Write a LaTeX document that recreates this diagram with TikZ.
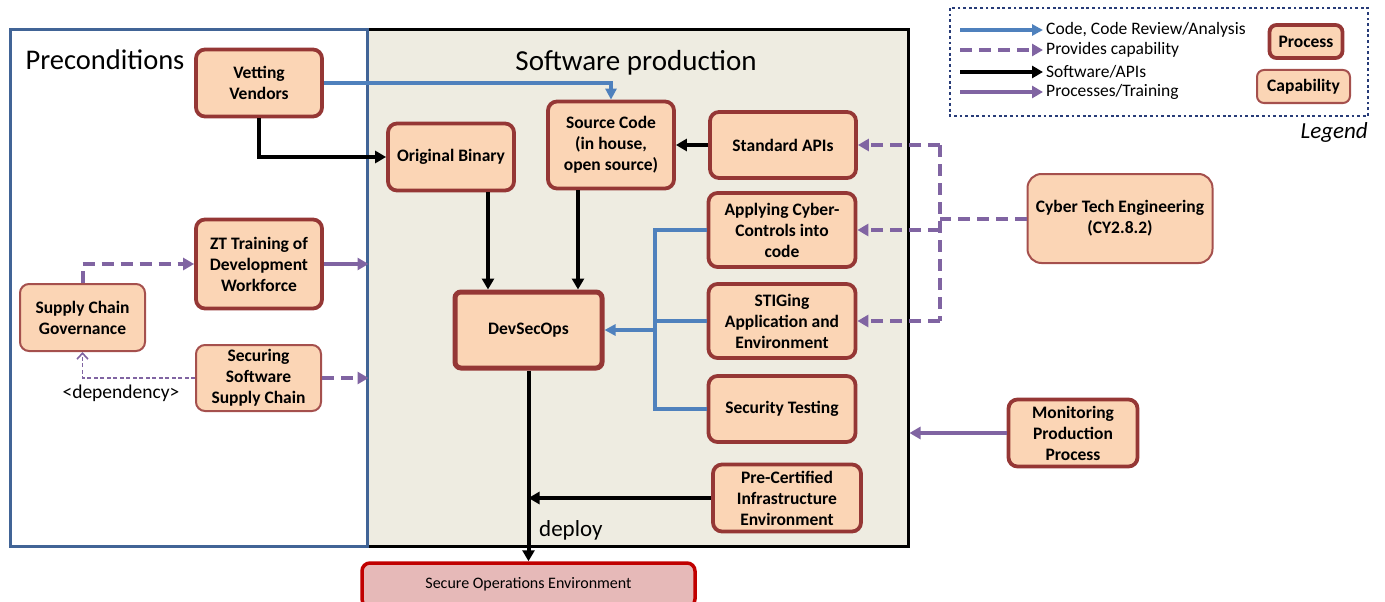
\documentclass[tikz,border=0pt]{standalone}
\usepackage{fontspec}
\setmainfont{Carlito}
\usetikzlibrary{arrows.meta}
\definecolor{peach}{RGB}{251,213,181}
\definecolor{dred}{RGB}{149,55,53}
\definecolor{capred}{RGB}{165,80,77}
\definecolor{cblue}{RGB}{79,129,189}
\definecolor{cpurple}{RGB}{128,100,162}
\definecolor{beige}{RGB}{238,236,225}
\definecolor{preblue}{RGB}{65,100,150}
\definecolor{legblue}{RGB}{40,60,120}
\definecolor{sofill}{RGB}{230,185,184}
\definecolor{soborder}{RGB}{192,0,0}
\newcommand{\nodefnt}{\fontsize{17.5}{21}\selectfont\bfseries}
\tikzset{
  proc/.style={draw=dred, line width=3.8pt, fill=peach, rounded corners=9pt, align=center, font=\nodefnt, inner sep=0pt},
  capab/.style={draw=capred, line width=2pt, fill=peach, rounded corners=9pt, align=center, font=\nodefnt, inner sep=0pt},
  tip/.style={-{Triangle[length=11pt,width=12pt]}},
  blk/.style={draw=black, line width=4pt},
  blkarr/.style={blk, tip},
  bline/.style={draw=cblue, line width=3.5pt},
  barr/.style={bline, -{Triangle[length=11pt,width=11pt]}},
  pline/.style={draw=cpurple, line width=4pt},
  parr/.style={pline, tip},
  pdash/.style={pline, dash pattern=on 12pt off 7pt},
  pdasharr/.style={pdash, tip},
  lbl/.style={font=\fontsize{17.5}{21}\selectfont, anchor=west, inner sep=0pt},
}
\begin{document}
\begin{tikzpicture}[x=1pt,y=-1pt]
\useasboundingbox (0,0) rectangle (1385,602);
% big boxes
\node[draw=black, line width=3pt, fill=beige, minimum width=541, minimum height=516, inner sep=0pt] (sw) at (637.5,288) {};
\node[draw=preblue, line width=3pt, minimum width=357, minimum height=516, inner sep=0pt] (pre) at (188.5,288) {};
\node[font=\fontsize{28.5}{34}\selectfont, inner sep=0pt] (pretitle) at (105,60) {Preconditions};
\node[font=\fontsize{29}{34}\selectfont, inner sep=0pt] (swtitle) at (636,63) {Software production};

% nodes
\node[proc, minimum width=126, minimum height=67] (vv) at (259,83) {Vetting\\Vendors};
\node[proc, minimum width=126, minimum height=67] (ob) at (451,157) {Original Binary};
\node[proc, minimum width=126, minimum height=87] (sc) at (611,145) {Source Code\\(in house,\\open source)};
\node[proc, minimum width=146, minimum height=66] (sa) at (783,145) {Standard APIs};
\node[proc, minimum width=147, minimum height=74] (ac) at (782,230) {Applying Cyber-\\Controls into\\code};
\node[proc, minimum width=147, minimum height=74] (sg) at (782,321) {STIGing\\Application and\\Environment};
\node[proc, minimum width=147, minimum height=66] (st) at (782,409) {Security Testing};
\node[proc, line width=5pt, rounded corners=6pt, minimum width=147, minimum height=76] (ds) at (528.5,330) {DevSecOps};
\node[proc, minimum width=148, minimum height=67] (pc) at (787,498) {Pre-Certified\\Infrastructure\\Environment};
\node[draw=soborder, line width=3.5pt, fill=sofill, rounded corners=8pt, minimum width=333, minimum height=44, inner sep=0pt] (so) at (528.5,585) {};
\node[font=\fontsize{16}{19}\selectfont, inner sep=0pt] (sotext) at (528.5,584) {Secure Operations Environment};
\node[capab, minimum width=185, minimum height=89, rounded corners=14pt] (ct) at (1120,218.5) {Cyber Tech Engineering\\(CY2.8.2)};
\node[proc, minimum width=129, minimum height=67] (mp) at (1073,433) {Monitoring\\Production\\Process};
\node[proc, minimum width=126, minimum height=89] (zt) at (259,264) {ZT Training of\\Development\\Workforce};
\node[capab, minimum width=125, minimum height=67] (scg) at (82.5,317.5) {Supply Chain\\Governance};
\node[capab, minimum width=125, minimum height=66] (ss) at (258.5,378) {Securing\\Software\\Supply Chain};

% connectors
\draw[barr] (vv.east) -| (sc.north);
\draw[blkarr] (vv.south) |- (ob.west);
\draw[blkarr] ([xshift=37pt]ob.south) -- ([xshift=37pt]ob.south |- ds.north);
\draw[blkarr] ([xshift=-33pt]sc.south) -- ([xshift=-33pt]sc.south |- ds.north);
\draw[blkarr] (sa.west) -- (sc.east);
\coordinate (bj) at (655,330);
\draw[bline] (ac.west) -- (ac.west -| bj) -- (st.west -| bj) -- (st.west);
\draw[bline] (sg.west) -- (sg.west -| bj);
\draw[barr] (bj) -- (ds.east);
\draw[blkarr] (ds.south) -- (so.north);
\draw[blkarr] (pc.west) -- (pc.west -| ds.south);
\node[font=\fontsize{23}{27}\selectfont, inner sep=0pt, anchor=west] (dep) at (539,530) {deploy};

\coordinate (pt) at (940,218.5);
\draw[pdash] (ct.west) -- (pt);
\draw[pdash] (sa.east -| pt) -- (sg.east -| pt);
\draw[pdasharr] (sa.east -| pt) -- (sa.east);
\draw[pdasharr] (ac.east -| pt) -- (ac.east);
\draw[pdasharr] (sg.east -| pt) -- (sg.east);
\draw[parr] (mp.west) -- (mp.west -| sw.east);
\draw[parr] (zt.east) -- (zt.east -| pre.east);
\draw[pdasharr] (ss.east) -- (ss.east -| pre.east);
\draw[pdasharr] (scg.north) |- (zt.west);
\draw[draw=cpurple, line width=1.6pt, dash pattern=on 4pt off 2.5pt, -{Straight Barb[length=6pt,width=11pt]}] (ss.west) -| (scg.south);
\node[font=\fontsize{19.5}{23}\selectfont, inner sep=0pt] (dlab) at (121,393) {<dependency>};

% legend
\draw[draw=legblue, line width=2.8pt, dash pattern=on 2.8pt off 2.8pt] (950,8) rectangle (1368,116);
\coordinate (l1a) at (960,30); \coordinate (l1b) at (1043,30);
\coordinate (l2a) at (960,50); \coordinate (l2b) at (1043,50);
\coordinate (l3a) at (960,72); \coordinate (l3b) at (1043,72);
\coordinate (l4a) at (960,92); \coordinate (l4b) at (1043,92);
\draw[barr] (l1a) -- (l1b);
\draw[pdasharr] (l2a) -- (l2b);
\draw[blkarr, line width=3.2pt] (l3a) -- (l3b);
\draw[parr] (l4a) -- (l4b);
\node[lbl] (t1) at (1046,30) {Code, Code Review/Analysis};
\node[lbl] (t2) at (1046,50) {Provides capability};
\node[lbl] (t3) at (1046,72) {Software/APIs};
\node[lbl] (t4) at (1046,92) {Processes/Training};
\node[proc, font=\fontsize{17.5}{21}\selectfont\bfseries, rounded corners=7pt, minimum width=73, minimum height=33] (lp) at (1306,41.5) {Process};
\node[capab, font=\fontsize{17.5}{21}\selectfont\bfseries, rounded corners=7pt, minimum width=93, minimum height=33] (lc) at (1303.5,86.5) {Capability};
\node[font=\fontsize{23}{27}\selectfont\itshape, inner sep=0pt, anchor=east] (leg) at (1368,132) {Legend};
\end{tikzpicture}
\end{document}
